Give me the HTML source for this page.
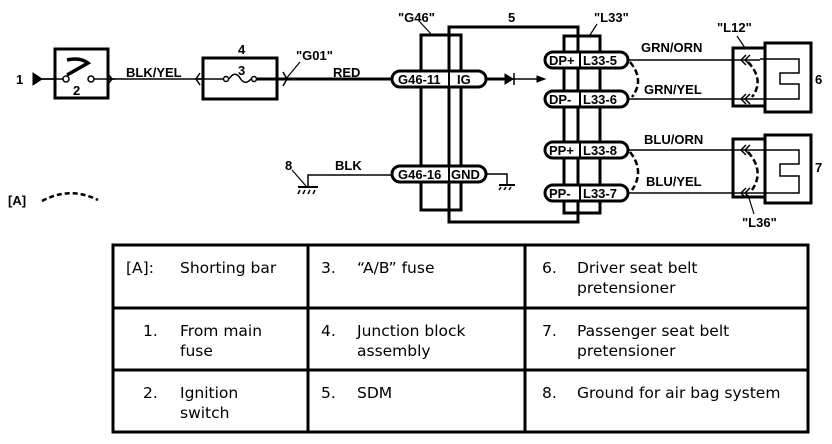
<!DOCTYPE html>
<html><head><meta charset="utf-8"><style>
body{margin:0;background:#fff;width:832px;height:444px;overflow:hidden}
svg{position:absolute;left:0;top:0}
.b{font-family:"Liberation Sans",Arial,sans-serif;font-weight:bold;font-size:13px}
.t{font-family:"DejaVu Sans","Liberation Sans",sans-serif;font-size:15.5px}
</style></head><body>
<svg width="832" height="444" viewBox="0 0 832 444" fill="none" stroke="#000">
<text class="b" x="16" y="84" fill="#000" stroke="none">1</text>
<polygon points="33,73 42,79 33,85" fill="#000"/>
<line x1="40" y1="79" x2="393" y2="79" stroke-width="1.5"/>
<line x1="280" y1="79" x2="393" y2="79" stroke-width="3"/>
<rect x="55" y="49" width="53" height="49" stroke-width="3" fill="#fff"/>
<line x1="40" y1="79" x2="64" y2="79" stroke-width="1.5"/>
<line x1="94" y1="79" x2="115" y2="79" stroke-width="1.5"/>
<circle cx="66" cy="79" r="3" fill="#fff" stroke-width="1.5"/>
<circle cx="91" cy="79" r="3" fill="#fff" stroke-width="1.5"/>
<path d="M67,75 L88,63 Q80,57 67,60" stroke-width="3.5"/>
<text class="b" x="73" y="95" fill="#000" stroke="none">2</text>
<path d="M108,74 L112,79 L108,84" stroke-width="1.5"/>
<text class="b" x="126" y="77" fill="#000" stroke="none">BLK/YEL</text>
<rect x="203" y="58" width="74" height="41" stroke-width="3" fill="#fff"/>
<line x1="195" y1="79" x2="224" y2="79" stroke-width="1.5"/>
<line x1="256" y1="79" x2="285" y2="79" stroke-width="3"/>
<path d="M200,73 L196,79 L200,85" stroke-width="1.5"/>
<circle cx="226" cy="79" r="2.5" fill="#fff" stroke-width="1.5"/>
<circle cx="254" cy="79" r="2.5" fill="#fff" stroke-width="1.5"/>
<path d="M229,79 Q235,70 240,78 Q245,86 251,79" stroke-width="1.5"/>
<text class="b" x="238" y="75" fill="#000" stroke="none">3</text>
<text class="b" x="238" y="54" fill="#000" stroke="none">4</text>
<path d="M283,72 L287,79 L283,86" stroke-width="1.5"/>
<line x1="285" y1="80" x2="300" y2="62" stroke-width="1.2"/>
<text class="b" x="296" y="60" fill="#000" stroke="none">"G01"</text>
<text class="b" x="333" y="77" fill="#000" stroke="none">RED</text>
<text class="b" x="285" y="170" fill="#000" stroke="none">8</text>
<line x1="292" y1="170" x2="306" y2="186" stroke-width="1.2"/>
<polyline points="308,186 308,175 393,175" stroke-width="1.5"/>
<line x1="298" y1="187" x2="318" y2="187" stroke-width="2"/>
<path d="M300,190 l-2,4 M305,190 l-2,4 M310,190 l-2,4 M315,190 l-2,4" stroke-width="1.5"/>
<text class="b" x="335" y="170" fill="#000" stroke="none">BLK</text>
<text class="b" x="8" y="205" fill="#000" stroke="none">[A]</text>
<path d="M42,201 Q70,186 98,200" stroke-width="2.5" stroke-dasharray="5,3"/>
<text class="b" x="398" y="22" fill="#000" stroke="none">"G46"</text>
<line x1="420" y1="22" x2="432" y2="35" stroke-width="1.2"/>
<text class="b" x="508" y="22" fill="#000" stroke="none">5</text>
<text class="b" x="594" y="22" fill="#000" stroke="none">"L33"</text>
<line x1="597" y1="24" x2="590" y2="35" stroke-width="1.2"/>
<rect x="449" y="27" width="129" height="195" stroke-width="3"/>
<rect x="421" y="35" width="40" height="175" stroke-width="3"/>
<rect x="564" y="36" width="36" height="177" stroke-width="3"/>
<g stroke-width="3" fill="#fff">
<path d="M400,71 H478 A8,8 0 0 1 478,87 H400 A8,8 0 0 1 400,71 Z"/>
<path d="M400,166 H478 A8,8 0 0 1 478,182 H400 A8,8 0 0 1 400,166 Z"/>
<path d="M553,52 H620 A8,8 0 0 1 620,68 H553 A8,8 0 0 1 553,52 Z"/>
<path d="M553,91 H620 A8,8 0 0 1 620,107 H553 A8,8 0 0 1 553,91 Z"/>
<path d="M553,142 H620 A8,8 0 0 1 620,158 H553 A8,8 0 0 1 553,142 Z"/>
<path d="M553,185 H620 A8,8 0 0 1 620,201 H553 A8,8 0 0 1 553,185 Z"/>
</g>
<g stroke-width="2">
<line x1="449" y1="71" x2="449" y2="87"/><line x1="449" y1="166" x2="449" y2="182"/>
<line x1="580" y1="52" x2="580" y2="68"/><line x1="580" y1="91" x2="580" y2="107"/>
<line x1="580" y1="142" x2="580" y2="158"/><line x1="580" y1="185" x2="580" y2="201"/>
</g>
<g class="b" fill="#000" stroke="none">
<text x="398" y="84">G46-11</text><text x="457" y="84">IG</text>
<text x="398" y="179">G46-16</text><text x="451" y="179">GND</text>
<text x="549" y="65">DP+</text><text x="583" y="65">L33-5</text>
<text x="549" y="104">DP-</text><text x="583" y="104">L33-6</text>
<text x="549" y="155">PP+</text><text x="583" y="155">L33-8</text>
<text x="549" y="198">PP-</text><text x="583" y="198">L33-7</text>
</g>
<line x1="486" y1="79" x2="540" y2="79" stroke-width="1.5"/>
<line x1="486" y1="79" x2="505" y2="79" stroke-width="3"/>
<polygon points="505,74 513,79 505,84" fill="#000"/>
<line x1="514" y1="73" x2="514" y2="85" stroke-width="1.5"/>
<polygon points="537,76 545,79 537,82" fill="#000"/>
<polyline points="486,174 507,174 507,184" stroke-width="1.5"/>
<line x1="499" y1="185" x2="515" y2="185" stroke-width="2"/>
<path d="M501,187 l-2,3 M506,187 l-2,3 M511,187 l-2,3" stroke-width="1.5"/>
<g stroke-width="1.5">
<line x1="628" y1="60" x2="760" y2="60"/><line x1="628" y1="99" x2="760" y2="99"/>
<line x1="628" y1="150" x2="760" y2="150"/><line x1="628" y1="193" x2="760" y2="193"/>
<polyline points="760,59 799,59 799,73 780,73 780,84 799,84 799,99 760,99"/>
<polyline points="760,150 799,150 799,164 780,164 780,176 799,176 799,193 760,193"/>
</g>
<path d="M630,62 Q645,80 632,97" stroke-width="2.5" stroke-dasharray="6,3"/>
<path d="M630,152 Q645,171 632,190" stroke-width="2.5" stroke-dasharray="6,3"/>
<path d="M748,62 Q765,80 752,97" stroke-width="2.5" stroke-dasharray="6,3"/>
<path d="M748,152 Q765,171 752,190" stroke-width="2.5" stroke-dasharray="6,3"/>
<g class="b" fill="#000" stroke="none">
<text x="641" y="52">GRN/ORN</text><text x="644" y="94">GRN/YEL</text>
<text x="644" y="144">BLU/ORN</text><text x="646" y="186">BLU/YEL</text>
<text x="717" y="32">"L12"</text><text x="742" y="227">"L36"</text>
<text x="815" y="84">6</text><text x="815" y="172">7</text>
</g>
<line x1="737" y1="36" x2="745" y2="48" stroke-width="1.2"/>
<line x1="748" y1="195" x2="754" y2="214" stroke-width="1.2"/>
<rect x="733" y="48" width="32" height="58" stroke-width="3"/>
<rect x="765" y="43" width="46" height="69" stroke-width="3"/>
<rect x="733" y="139" width="32" height="58" stroke-width="3"/>
<rect x="765" y="135" width="46" height="68" stroke-width="3"/>
<g stroke-width="1.5">
<path d="M746,55 l-5,5 5,5 M750,55 l-5,5 5,5"/><path d="M746,94 l-5,5 5,5 M750,94 l-5,5 5,5"/>
<path d="M746,145 l-5,5 5,5 M750,145 l-5,5 5,5"/><path d="M746,188 l-5,5 5,5 M750,188 l-5,5 5,5"/>
</g>
<rect x="113" y="245" width="695" height="187" stroke-width="3"/>
<line x1="113" y1="308" x2="808" y2="308" stroke-width="3"/>
<line x1="113" y1="370" x2="808" y2="370" stroke-width="3"/>
<line x1="308" y1="245" x2="308" y2="432" stroke-width="3"/>
<line x1="525" y1="245" x2="525" y2="432" stroke-width="3"/>
<g class="t" fill="#000" stroke="none">
<text x="126" y="273">[A]:</text><text x="180" y="273">Shorting bar</text>
<text x="143" y="336">1.</text><text x="180" y="336">From main</text><text x="180" y="356">fuse</text>
<text x="143" y="398">2.</text><text x="180" y="398">Ignition</text><text x="180" y="418">switch</text>
<text x="321" y="273">3.</text><text x="357" y="273">“A/B” fuse</text>
<text x="321" y="336">4.</text><text x="357" y="336">Junction block</text><text x="357" y="356">assembly</text>
<text x="321" y="398">5.</text><text x="357" y="398">SDM</text>
<text x="542" y="273">6.</text><text x="577" y="273">Driver seat belt</text><text x="577" y="293">pretensioner</text>
<text x="542" y="336">7.</text><text x="577" y="336">Passenger seat belt</text><text x="577" y="356">pretensioner</text>
<text x="542" y="398">8.</text><text x="577" y="398">Ground for air bag system</text>
</g>
</svg>
</body></html>
